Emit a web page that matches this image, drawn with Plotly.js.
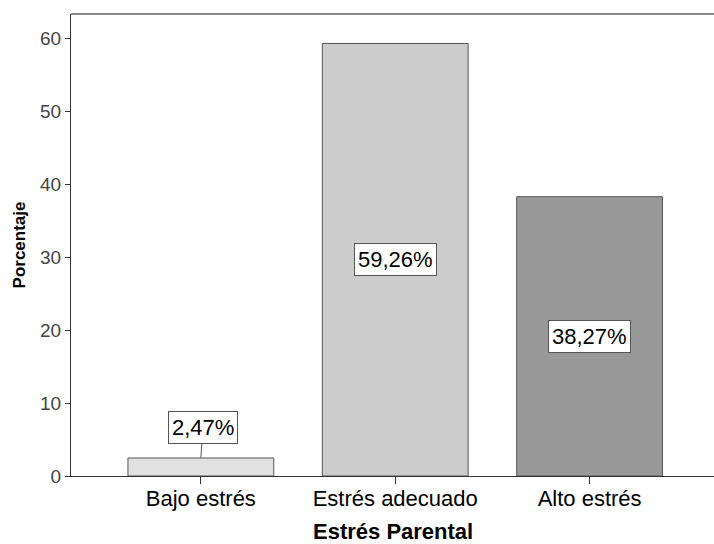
<!DOCTYPE html>
<html><head><meta charset="utf-8">
<script src="https://cdn.plot.ly/plotly-3.0.1.min.js"></script>
<style>html,body{margin:0;padding:0;background:#fff}</style>
</head><body><div id="chart" style="width:714px;height:544px"></div>
<script>
const categories = ["Bajo estrés", "Estrés adecuado", "Alto estrés"];
const values = [2.47, 59.26, 38.27];
const labels = ["2,47%", "59,26%", "38,27%"];
const barColors = ["#e1e1e1", "#cccccc", "#999999"];
const yTicks = [0, 10, 20, 30, 40, 50, 60];
const xTitle = "Estrés Parental";
const yTitle = "Porcentaje";

const FONT = "Liberation Sans, Arial, sans-serif";
const trace = {
  type: "bar", x: [0,1,2], y: values, width: 0.75,
  marker: {color: barColors, line: {color: "#555555", width: 1}},
  hoverinfo: "none"
};
const annotations = values.map((v, i) => {
  const base = {x: i, xref: "x", yref: "y", text: labels[i],
    font: {family: FONT, size: 22, color: "#000"},
    bgcolor: "#ffffff", bordercolor: "#555555", borderwidth: 1, borderpad: 3};
  if (i === 0) {
    return Object.assign(base, {y: v, showarrow: true, arrowhead: 0, arrowwidth: 1,
      arrowcolor: "#555555", ax: 2, ay: -30, standoff: 0});
  }
  return Object.assign(base, {y: v / 2, showarrow: false});
});
annotations.push({xref: "paper", yref: "paper", x: 0.5, y: -0.121, yanchor: "middle",
  showarrow: false, text: xTitle,
  font: {family: FONT, size: 22, color: "#000", weight: "bold"}});
const layout = {
  width: 714, height: 544,
  margin: {l: 71, r: 0, t: 14, b: 68},
  paper_bgcolor: "#fff", plot_bgcolor: "#fff",
  showlegend: false,
  xaxis: {
    range: [-0.668, 2.64], tickvals: [0,1,2], ticktext: categories,
    ticks: "outside", ticklen: 7, tickcolor: "#333", tickwidth: 1,
    ticklabelstandoff: -4,
    showline: true, linecolor: "#333", linewidth: 1, showgrid: false, zeroline: false,
    tickfont: {family: FONT, size: 22, color: "#000"}
  },
  yaxis: {
    range: [0, 63.3], tickvals: yTicks,
    ticks: "outside", ticklen: 5, tickcolor: "#333", tickwidth: 1,
    showline: true, linecolor: "#333", linewidth: 1, showgrid: false, zeroline: false,
    tickfont: {family: FONT, size: 19, color: "#444"},
    title: {text: yTitle, standoff: 10,
      font: {family: FONT, size: 17, color: "#000", weight: "bold"}}
  },
  shapes: [{type: "line", xref: "paper", yref: "paper", x0: 0, x1: 1, y0: 1, y1: 1,
    line: {color: "#888888", width: 2}}],
  annotations: annotations
};
Plotly.newPlot("chart", [trace], layout, {displayModeBar: false, staticPlot: true});
</script></body></html>
